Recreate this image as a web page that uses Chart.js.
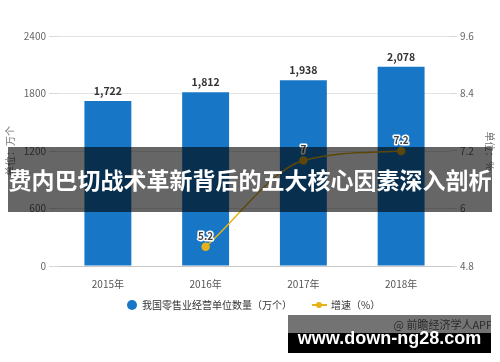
<!DOCTYPE html>
<html><head><meta charset="utf-8">
<script src="https://cdn.jsdelivr.net/npm/chart.js@4/dist/chart.umd.min.js"></script>
<style>
body{margin:0;background:#fff;}
#wrap{position:relative;width:500px;height:362px;overflow:hidden;font-family:"Noto Sans CJK SC","Noto Sans",sans-serif;}
canvas{position:absolute;left:0;top:0;}
#legend{position:absolute;top:297px;left:0;width:500px;height:16px;font-size:10px;color:#333;}
#legend .item{position:absolute;top:0;line-height:16px;white-space:nowrap;}
#legend .dot{position:absolute;width:10px;height:10px;border-radius:50%;background:#1777c6;top:3px;}
#legend .ln{position:absolute;width:15px;height:2px;background:#e6b219;top:7px;}
#legend .ld{position:absolute;width:6px;height:6px;border-radius:50%;background:#e6b219;top:5px;}
#banner{position:absolute;left:8px;top:147px;width:484px;height:65px;background:rgba(0,0,0,0.6);color:#fff;font-weight:bold;font-size:23px;line-height:65px;text-align:center;white-space:nowrap;}
#wm{position:absolute;left:288px;top:315px;width:203px;height:38px;overflow:hidden;}
#wm .top{position:absolute;left:0;top:0;width:203px;height:18px;background:rgba(0,0,0,0.55);}
#wm .bot{position:absolute;left:0;top:18px;width:203px;height:20px;background:#000;}
#wm .src{position:absolute;right:-2px;top:2px;font-size:11px;line-height:14px;color:#2a2a2a;white-space:nowrap;}
#wm .url{position:absolute;left:0;width:203px;top:14px;text-align:center;font-family:"Liberation Sans",Arial,sans-serif;font-weight:bold;font-size:18px;line-height:18px;color:#fff;white-space:nowrap;}
</style></head>
<body>
<div id="wrap">
<canvas id="c" width="500" height="362"></canvas>
<div id="legend">
  <span class="dot" style="left:127px"></span><span class="item" style="left:142px">我国零售业经营单位数量（万个）</span>
  <span class="ln" style="left:312px"></span><span class="ld" style="left:316px"></span><span class="item" style="left:331px">增速（%）</span>
</div>
<div id="banner">费内巴切战术革新背后的五大核心因素深入剖析</div>
<div id="wm"><div class="top"></div><div class="bot"></div><div class="src">@ 前瞻经济学人APP</div><div class="url">www.down-ng28.com</div></div>
</div>
<script>
const categories = ['2015年', '2016年', '2017年', '2018年'];
const unitCounts = [1722, 1812, 1938, 2078];
const growthRates = [null, 5.2, 7, 7.2];
const leftTicks = [0, 600, 1200, 1800, 2400];
const rightTicks = [4.8, 6, 7.2, 8.4, 9.6];

const FONT = '"Noto Sans CJK SC","Noto Sans",sans-serif';

const labelPlugin = {
  id: 'valueLabels',
  afterDatasetsDraw(chart) {
    const ctx = chart.ctx;
    ctx.save();
    ctx.textAlign = 'center';
    ctx.textBaseline = 'middle';
    const barMeta = chart.getDatasetMeta(1);
    barMeta.data.forEach((el, i) => {
      ctx.font = 'bold 10.5px ' + FONT;
      ctx.fillStyle = '#333';
      ctx.fillText(unitCounts[i].toLocaleString('en-US'), el.x, el.y - 10);
    });
    const lineMeta = chart.getDatasetMeta(0);
    lineMeta.data.forEach((el, i) => {
      if (growthRates[i] == null) return;
      ctx.font = 'bold 10px ' + FONT;
      ctx.lineWidth = 3;
      ctx.strokeStyle = '#fff';
      ctx.lineJoin = 'round';
      ctx.strokeText(String(growthRates[i]), el.x, el.y - 11);
      ctx.fillStyle = '#444';
      ctx.fillText(String(growthRates[i]), el.x, el.y - 11);
    });
    ctx.restore();
  }
};

new Chart(document.getElementById('c'), {
  data: {
    labels: categories,
    datasets: [
      {
        type: 'line', label: '增速（%）', data: growthRates, yAxisID: 'y1', order: 0,
        borderColor: '#e6b219', backgroundColor: '#e6b219', borderWidth: 1.5,
        pointRadius: 3.5, pointBackgroundColor: '#e6b219', pointBorderColor: '#e6b219',
        cubicInterpolationMode: 'monotone', spanGaps: true, fill: false
      },
      {
        type: 'bar', label: '我国零售业经营单位数量（万个）', data: unitCounts, yAxisID: 'y', order: 1,
        backgroundColor: '#1777c6', categoryPercentage: 1, barPercentage: 0.48
      }
    ]
  },
  options: {
    responsive: false, animation: false,
    layout: { padding: { top: 36, left: 0, right: 0, bottom: 0 } },
    plugins: { legend: { display: false }, tooltip: { enabled: false } },
    scales: {
      x: {
        afterFit(s) { s.height = 96; },
        grid: { display: false },
        border: { display: true, color: '#c8c8c8' },
        ticks: { color: '#555', font: { size: 10, family: FONT }, padding: 4 }
      },
      y: {
        position: 'left', min: 0, max: 2400,
        afterFit(s) { s.width = 59; },
        afterBuildTicks(s) { s.ticks = leftTicks.map(v => ({ value: v })); },
        grid: { color: '#e3e3e3', tickLength: 10, tickColor: '#d8d8d8' },
        border: { display: false },
        ticks: { color: '#666', font: { size: 10, family: FONT }, padding: 3, callback: v => String(v) },
        title: { display: true, text: '单位：万个', color: '#777', font: { size: 10, family: FONT }, padding: { top: 4, bottom: 0 } }
      },
      y1: {
        position: 'right', min: 4.8, max: 9.6,
        afterFit(s) { s.width = 50; },
        afterBuildTicks(s) { s.ticks = rightTicks.map(v => ({ value: v })); },
        grid: { drawOnChartArea: false, tickLength: 7, tickColor: '#d8d8d8' },
        border: { display: false },
        ticks: { color: '#666', font: { size: 10, family: FONT }, padding: 3, callback: v => String(v) },
        title: { display: true, text: '单位：%', color: '#777', font: { size: 10, family: FONT }, padding: { top: 4, bottom: 0 } }
      }
    }
  },
  plugins: [labelPlugin]
});
</script>
</body></html>
